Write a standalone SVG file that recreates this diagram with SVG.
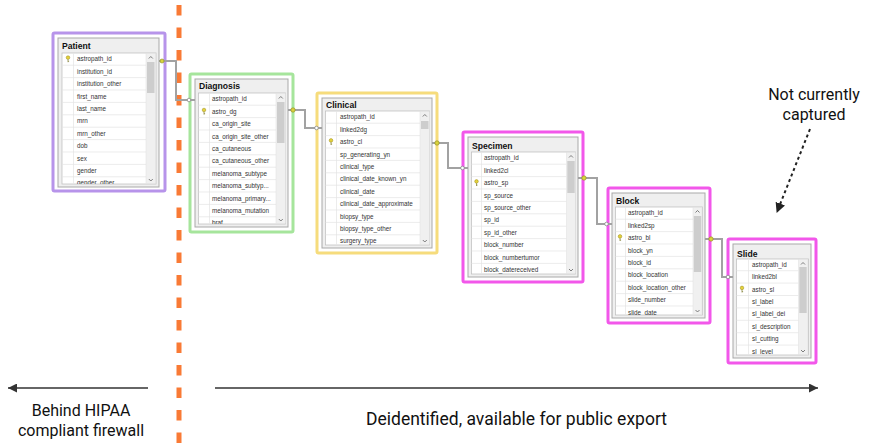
<svg xmlns="http://www.w3.org/2000/svg" width="870" height="447" viewBox="0 0 870 447">
<style>
.hl{fill:#ffffff;stroke-width:3}
.purple{stroke:#b794ea}
.green{stroke:#a6e59c}
.yellow{stroke:#f6dc7c}
.magenta{stroke:#f257ea}
.frame{fill:#efefef;stroke:#a9a9a9;stroke-width:1}
.title{font-family:"Liberation Sans",Arial,sans-serif;font-weight:bold;font-size:8.6px;fill:#111}
.rows{fill:#ffffff;stroke:#c2c2c2;stroke-width:0.8}
.row{font-family:"Liberation Sans",Arial,sans-serif;font-size:6.3px;fill:#333}
.sep{stroke:#e4e4e4;stroke-width:0.7}
.sb{fill:#f0f0f0;stroke:#e0e0e0;stroke-width:0.5}
.thumb{fill:#cdcdcd}
.chev{fill:none;stroke:#606060;stroke-width:0.8}
.conn{fill:none;stroke:#a2a2a2;stroke-width:2}
.pk{fill:#d9d23c;stroke:#8c8a22;stroke-width:0.6}
.fk{fill:#ffffff;stroke:#8a8a8a;stroke-width:0.8}
.lbl{font-family:Roboto,"Liberation Sans",sans-serif;fill:#111;text-anchor:middle}
.arr{stroke:#333;stroke-width:1.6;fill:none}
</style>
<defs>
<g id="key">
<circle cx="0" cy="-1.4" r="1.8" fill="#e4d23c" stroke="#9a8a1a" stroke-width="0.5"/>
<path d="M0 0.4V3.2M0 2.3H1.1" stroke="#7c7a2a" stroke-width="0.7" fill="none"/>
</g>
<marker id="ah" markerUnits="userSpaceOnUse" markerWidth="10" markerHeight="9" refX="9" refY="4.5" orient="auto">
<path d="M0,0 L9,4.5 L0,9 z" fill="#333"/>
</marker>
<marker id="ahd" markerUnits="userSpaceOnUse" markerWidth="10" markerHeight="10" refX="9" refY="5" orient="auto">
<path d="M0,0 L10,5 L0,10 z" fill="#222"/>
</marker>
<clipPath id="cPatient"><rect x="62" y="53" width="84" height="131"/></clipPath>
<clipPath id="cDiagnosis"><rect x="198.5" y="93" width="77.5" height="131"/></clipPath>
<clipPath id="cClinical"><rect x="325.5" y="111" width="94.5" height="134"/></clipPath>
<clipPath id="cSpecimen"><rect x="471.5" y="152" width="95" height="122"/></clipPath>
<clipPath id="cBlock"><rect x="615.5" y="207" width="77.5" height="108"/></clipPath>
<clipPath id="cSlide"><rect x="736.5" y="259" width="62" height="96"/></clipPath>
</defs>

<rect width="870" height="447" fill="#ffffff"/>

<!-- firewall divider -->
<line x1="179" y1="5" x2="179" y2="447" stroke="#f97a35" stroke-width="5" stroke-dasharray="10.5 12"/>

<!-- Patient -->
<g id="patient">
<rect class="hl purple" x="53" y="33" width="112" height="158" rx="1.5"/>
<rect class="frame" x="58" y="38" width="101" height="149"/>
<text class="title" x="62" y="49">Patient</text>
<rect class="rows" x="62" y="53" width="94" height="131"/>
<g clip-path="url(#cPatient)">
<line class="sep" x1="73.5" y1="53" x2="73.5" y2="184"/>
<g transform="translate(0,59)">
<g class="sep"><line x1="62" y1="6.2" x2="146" y2="6.2"/><line x1="62" y1="18.6" x2="146" y2="18.6"/><line x1="62" y1="31" x2="146" y2="31"/><line x1="62" y1="43.4" x2="146" y2="43.4"/><line x1="62" y1="55.8" x2="146" y2="55.8"/><line x1="62" y1="68.2" x2="146" y2="68.2"/><line x1="62" y1="80.6" x2="146" y2="80.6"/><line x1="62" y1="93" x2="146" y2="93"/><line x1="62" y1="105.4" x2="146" y2="105.4"/><line x1="62" y1="117.8" x2="146" y2="117.8"/></g>
<text class="row" x="77" y="2.3">astropath_id</text>
<text class="row" x="77" y="14.7">institution_id</text>
<text class="row" x="77" y="27.1">institution_other</text>
<text class="row" x="77" y="39.5">first_name</text>
<text class="row" x="77" y="51.9">last_name</text>
<text class="row" x="77" y="64.3">mrn</text>
<text class="row" x="77" y="76.7">mrn_other</text>
<text class="row" x="77" y="89.1">dob</text>
<text class="row" x="77" y="101.5">sex</text>
<text class="row" x="77" y="113.9">gender</text>
<text class="row" x="77" y="126.3">gender_other</text>
<use href="#key" x="68" y="0"/>
</g>
</g>
<rect class="sb" x="146" y="53.5" width="9.5" height="130"/>
<rect class="thumb" x="147" y="62" width="7.5" height="31"/>
<polyline class="chev" points="148.8,58.5 150.8,56.5 152.8,58.5"/>
<polyline class="chev" points="148.8,179 150.8,181 152.8,179"/>
</g>

<!-- Diagnosis -->
<g id="diagnosis">
<rect class="hl green" x="190" y="74" width="103" height="158" rx="1.5"/>
<rect class="frame" x="195" y="79" width="93" height="148"/>
<text class="title" x="199" y="89">Diagnosis</text>
<rect class="rows" x="198.5" y="93" width="87" height="131"/>
<g clip-path="url(#cDiagnosis)">
<line class="sep" x1="209.5" y1="93" x2="209.5" y2="224"/>
<g transform="translate(0,99)">
<g class="sep"><line x1="198" y1="6.2" x2="276" y2="6.2"/><line x1="198" y1="18.6" x2="276" y2="18.6"/><line x1="198" y1="31" x2="276" y2="31"/><line x1="198" y1="43.4" x2="276" y2="43.4"/><line x1="198" y1="55.8" x2="276" y2="55.8"/><line x1="198" y1="68.2" x2="276" y2="68.2"/><line x1="198" y1="80.6" x2="276" y2="80.6"/><line x1="198" y1="93" x2="276" y2="93"/><line x1="198" y1="105.4" x2="276" y2="105.4"/><line x1="198" y1="117.8" x2="276" y2="117.8"/></g>
<text class="row" x="212" y="2.3">astropath_id</text>
<text class="row" x="212" y="14.7">astro_dg</text>
<text class="row" x="212" y="27.1">ca_origin_site</text>
<text class="row" x="212" y="39.5">ca_origin_site_other</text>
<text class="row" x="212" y="51.9">ca_cutaneous</text>
<text class="row" x="212" y="64.3">ca_cutaneous_other</text>
<text class="row" x="212" y="76.7">melanoma_subtype</text>
<text class="row" x="212" y="89.1">melanoma_subtyp...</text>
<text class="row" x="212" y="101.5">melanoma_primary...</text>
<text class="row" x="212" y="113.9">melanoma_mutation</text>
<text class="row" x="212" y="126.3">braf</text>
<use href="#key" x="204" y="12.4"/>
</g>
</g>
<rect class="sb" x="276" y="93.5" width="9.5" height="130"/>
<rect class="thumb" x="277" y="102" width="7.5" height="41"/>
<polyline class="chev" points="278.8,98.5 280.8,96.5 282.8,98.5"/>
<polyline class="chev" points="278.8,219 280.8,221 282.8,219"/>
</g>

<!-- Clinical -->
<g id="clinical">
<rect class="hl yellow" x="317" y="93" width="120" height="160" rx="1.5"/>
<rect class="frame" x="322" y="98" width="110" height="150"/>
<text class="title" x="326" y="108">Clinical</text>
<rect class="rows" x="325.5" y="111" width="104" height="134"/>
<g clip-path="url(#cClinical)">
<line class="sep" x1="336.5" y1="111" x2="336.5" y2="245"/>
<g transform="translate(0,117)">
<g class="sep"><line x1="325" y1="6.2" x2="420" y2="6.2"/><line x1="325" y1="18.6" x2="420" y2="18.6"/><line x1="325" y1="31" x2="420" y2="31"/><line x1="325" y1="43.4" x2="420" y2="43.4"/><line x1="325" y1="55.8" x2="420" y2="55.8"/><line x1="325" y1="68.2" x2="420" y2="68.2"/><line x1="325" y1="80.6" x2="420" y2="80.6"/><line x1="325" y1="93" x2="420" y2="93"/><line x1="325" y1="105.4" x2="420" y2="105.4"/><line x1="325" y1="117.8" x2="420" y2="117.8"/></g>
<text class="row" x="340" y="2.3">astropath_id</text>
<text class="row" x="340" y="14.7">linked2dg</text>
<text class="row" x="340" y="27.1">astro_cl</text>
<text class="row" x="340" y="39.5">sp_generating_yn</text>
<text class="row" x="340" y="51.9">clinical_type</text>
<text class="row" x="340" y="64.3">clinical_date_known_yn</text>
<text class="row" x="340" y="76.7">clinical_date</text>
<text class="row" x="340" y="89.1">clinical_date_approximate</text>
<text class="row" x="340" y="101.5">biopsy_type</text>
<text class="row" x="340" y="113.9">biopsy_type_other</text>
<text class="row" x="340" y="126.3">surgery_type</text>
<use href="#key" x="331" y="24.8"/>
</g>
</g>
<rect class="sb" x="420" y="111.5" width="9.5" height="133"/>
<rect class="thumb" x="421" y="121" width="7.5" height="8"/>
<polyline class="chev" points="422.8,116.5 424.8,114.5 426.8,116.5"/>
<polyline class="chev" points="422.8,240 424.8,242 426.8,240"/>
</g>

<!-- Specimen -->
<g id="specimen">
<rect class="hl magenta" x="463" y="132" width="120" height="150" rx="1.5"/>
<rect class="frame" x="468" y="137" width="110" height="140"/>
<text class="title" x="472" y="149">Specimen</text>
<rect class="rows" x="471.5" y="152" width="104" height="122"/>
<g clip-path="url(#cSpecimen)">
<line class="sep" x1="481.5" y1="152" x2="481.5" y2="274"/>
<g transform="translate(0,158)">
<g class="sep"><line x1="471" y1="6.2" x2="567" y2="6.2"/><line x1="471" y1="18.6" x2="567" y2="18.6"/><line x1="471" y1="31" x2="567" y2="31"/><line x1="471" y1="43.4" x2="567" y2="43.4"/><line x1="471" y1="55.8" x2="567" y2="55.8"/><line x1="471" y1="68.2" x2="567" y2="68.2"/><line x1="471" y1="80.6" x2="567" y2="80.6"/><line x1="471" y1="93" x2="567" y2="93"/><line x1="471" y1="105.4" x2="567" y2="105.4"/></g>
<text class="row" x="484" y="2.3">astropath_id</text>
<text class="row" x="484" y="14.7">linked2cl</text>
<text class="row" x="484" y="27.1">astro_sp</text>
<text class="row" x="484" y="39.5">sp_source</text>
<text class="row" x="484" y="51.9">sp_source_other</text>
<text class="row" x="484" y="64.3">sp_id</text>
<text class="row" x="484" y="76.7">sp_id_other</text>
<text class="row" x="484" y="89.1">block_number</text>
<text class="row" x="484" y="101.5">block_numbertumor</text>
<text class="row" x="484" y="113.9">block_datereceived</text>
<use href="#key" x="476.5" y="24.8"/>
</g>
</g>
<rect class="sb" x="566.5" y="152.5" width="9" height="121"/>
<rect class="thumb" x="567.3" y="161" width="7.4" height="32"/>
<polyline class="chev" points="569,157.5 571,155.5 573,157.5"/>
<polyline class="chev" points="569,269 571,271 573,269"/>
</g>

<!-- Block -->
<g id="block">
<rect class="hl magenta" x="608" y="188" width="102" height="135" rx="1.5"/>
<rect class="frame" x="612" y="193" width="93" height="125"/>
<text class="title" x="616" y="204">Block</text>
<rect class="rows" x="615.5" y="207" width="87" height="108"/>
<g clip-path="url(#cBlock)">
<line class="sep" x1="625.5" y1="207" x2="625.5" y2="315"/>
<g transform="translate(0,213)">
<g class="sep"><line x1="615" y1="6.2" x2="693" y2="6.2"/><line x1="615" y1="18.6" x2="693" y2="18.6"/><line x1="615" y1="31" x2="693" y2="31"/><line x1="615" y1="43.4" x2="693" y2="43.4"/><line x1="615" y1="55.8" x2="693" y2="55.8"/><line x1="615" y1="68.2" x2="693" y2="68.2"/><line x1="615" y1="80.6" x2="693" y2="80.6"/><line x1="615" y1="93" x2="693" y2="93"/></g>
<text class="row" x="628" y="2.3">astropath_id</text>
<text class="row" x="628" y="14.7">linked2sp</text>
<text class="row" x="628" y="27.1">astro_bl</text>
<text class="row" x="628" y="39.5">block_yn</text>
<text class="row" x="628" y="51.9">block_id</text>
<text class="row" x="628" y="64.3">block_location</text>
<text class="row" x="628" y="76.7">block_location_other</text>
<text class="row" x="628" y="89.1">slide_number</text>
<text class="row" x="628" y="101.5">slide_date</text>
<use href="#key" x="620" y="24.8"/>
</g>
</g>
<rect class="sb" x="693" y="207.5" width="9" height="107"/>
<rect class="thumb" x="693.8" y="216" width="7.4" height="56"/>
<polyline class="chev" points="695.5,212.5 697.5,210.5 699.5,212.5"/>
<polyline class="chev" points="695.5,310 697.5,312 699.5,310"/>
</g>

<!-- Slide -->
<g id="slide">
<rect class="hl magenta" x="728" y="239" width="88" height="124" rx="1.5"/>
<rect class="frame" x="733" y="244" width="78" height="114"/>
<text class="title" x="737" y="256.5">Slide</text>
<rect class="rows" x="736.5" y="259" width="72" height="96"/>
<g clip-path="url(#cSlide)">
<line class="sep" x1="748.5" y1="259" x2="748.5" y2="355"/>
<g transform="translate(0,264.5)">
<g class="sep"><line x1="736" y1="6.2" x2="799" y2="6.2"/><line x1="736" y1="18.6" x2="799" y2="18.6"/><line x1="736" y1="31" x2="799" y2="31"/><line x1="736" y1="43.4" x2="799" y2="43.4"/><line x1="736" y1="55.8" x2="799" y2="55.8"/><line x1="736" y1="68.2" x2="799" y2="68.2"/><line x1="736" y1="80.6" x2="799" y2="80.6"/></g>
<text class="row" x="752" y="2.3">astropath_id</text>
<text class="row" x="752" y="14.7">linked2bl</text>
<text class="row" x="752" y="27.1">astro_sl</text>
<text class="row" x="752" y="39.5">sl_label</text>
<text class="row" x="752" y="51.9">sl_label_dei</text>
<text class="row" x="752" y="64.3">sl_description</text>
<text class="row" x="752" y="76.7">sl_cutting</text>
<text class="row" x="752" y="89.1">sl_level</text>
<use href="#key" x="742" y="24.8"/>
</g>
</g>
<rect class="sb" x="798.5" y="259.5" width="9" height="95"/>
<rect class="thumb" x="799.3" y="267" width="7.4" height="46"/>
<polyline class="chev" points="801,264.5 803,262.5 805,264.5"/>
<polyline class="chev" points="801,350 803,352 805,350"/>
</g>

<!-- Connectors -->
<g id="connectors">
<polyline class="conn" points="159,61 176,61 176,100 195,100"/>
<polyline class="conn" points="288,110 305,110 305,128 322,128"/>
<polyline class="conn" points="432,143 448,143 448,168 468,168"/>
<polyline class="conn" points="578,178 597,178 597,224 612,224"/>
<polyline class="conn" points="705,239 722,239 722,277 733,277"/>
<circle class="pk" cx="162" cy="61" r="2"/>
<circle class="pk" cx="293" cy="110" r="2.2"/>
<circle class="pk" cx="437" cy="143" r="2.2"/>
<circle class="pk" cx="584" cy="178" r="2.2"/>
<circle class="pk" cx="711" cy="239" r="2.2"/>
<circle class="fk" cx="189" cy="100" r="1.8"/>
<circle class="fk" cx="316.5" cy="128" r="1.8"/>
<circle class="fk" cx="462.5" cy="168" r="1.8"/>
<circle class="fk" cx="606.5" cy="224" r="1.8"/>
<circle class="fk" cx="728" cy="277" r="1.8"/>
</g>

<!-- Annotations -->
<g id="annotations">
<text class="lbl" x="814" y="100" font-size="16">Not currently</text>
<text class="lbl" x="814" y="120" font-size="16">captured</text>
<line x1="810" y1="129" x2="777" y2="212" stroke="#222" stroke-width="2" stroke-dasharray="3 3" marker-end="url(#ahd)"/>
<line class="arr" x1="148" y1="388" x2="8" y2="388" marker-end="url(#ah)"/>
<line class="arr" x1="215" y1="388" x2="818" y2="388" marker-end="url(#ah)"/>
<text class="lbl" x="81" y="416" font-size="16">Behind HIPAA</text>
<text class="lbl" x="81" y="436" font-size="16">compliant firewall</text>
<text class="lbl" x="516.5" y="425" font-size="17.5">Deidentified, available for public export</text>
</g>
</svg>
